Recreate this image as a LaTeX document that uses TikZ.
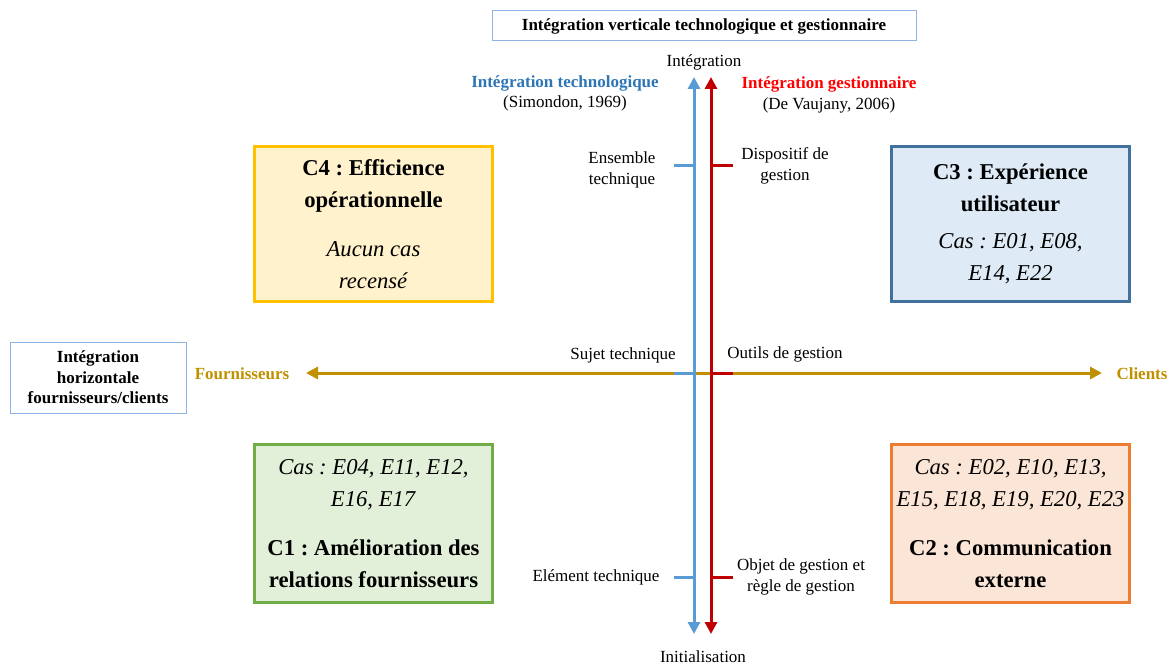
\documentclass[tikz,border=0pt]{standalone}
\usepackage{fontspec}
\setmainfont{Liberation Serif}
\frenchspacing
\usepackage{tikz}
\usetikzlibrary{
  arrows.meta,  % pointes Triangle des axes
  positioning,  % placement relatif des noeuds
  calc          % calculs de coordonnees
}

% couleurs des axes et des cadrans
\definecolor{axeTech}{HTML}{5B9BD5}
\definecolor{axeGest}{HTML}{C00000}
\definecolor{axeHoriz}{HTML}{BF9000}
\definecolor{texteTech}{HTML}{2E75B6}
\definecolor{texteGest}{HTML}{FF0000}
\definecolor{cadreBleu}{HTML}{8EB4E3}
\definecolor{bordC4}{HTML}{FFC000}
\definecolor{fondC4}{HTML}{FFF2CC}
\definecolor{bordC3}{HTML}{41719C}
\definecolor{fondC3}{HTML}{DEEBF7}
\definecolor{bordC1}{HTML}{70AD47}
\definecolor{fondC1}{HTML}{E2F0D9}
\definecolor{bordC2}{HTML}{ED7D31}
\definecolor{fondC2}{HTML}{FBE5D6}

\begin{document}
\begin{tikzpicture}[x=0.75pt, y=-0.75pt, >={Triangle[length=9pt, width=9pt]}, % une unite = un pixel de la figure, axe y vers le bas
  petit/.style={font=\fontsize{12.75}{15.5}\selectfont, align=center, inner sep=0pt},
  cadran/.style={draw, line width=2.25pt, align=center, inner sep=0pt,
    minimum width=178.5pt, font=\fontsize{17}{24}\selectfont},
  axe/.style={line width=2.25pt, <->},
  trait/.style={line width=2.25pt}]
  \useasboundingbox (0,0) rectangle (1173,666); % marges de la figure d'origine

  % titres des deux integrations
  \node[petit, draw=cadreBleu, line width=0.75pt, minimum width=318pt, minimum height=22.5pt] (titreV) at (704,26) {\textbf{Intégration verticale technologique et gestionnaire}};
  \node[petit, draw=cadreBleu, line width=0.75pt, minimum width=132pt, minimum height=53.25pt] (titreH) at (98,377.5) {\textbf{Intégration}\\\textbf{horizontale}\\\textbf{fournisseurs/clients}};

  % extremites des axes
  \node[petit] (integ) at (704,62) {Intégration};
  \node[petit] (init) at (703,657) {Initialisation};
  \node[petit, text=axeHoriz, font=\fontsize{12.75}{15.5}\selectfont\bfseries] (fourn) at (242,374) {Fournisseurs};
  \node[petit, text=axeHoriz, font=\fontsize{12.75}{15.5}\selectfont\bfseries] (cli) at (1142,374) {Clients};
  \coordinate (techHaut) at (694,77);
  \coordinate (techBas) at (694,634);
  \coordinate (gestHaut) at (711,77);
  \coordinate (gestBas) at (711,634);
  \coordinate (horizG) at (306,373);
  \coordinate (horizD) at (1102,373);

  % sources des deux axes verticaux
  \node[petit] (techSrc) at (565,93.5) {\textbf{\color{texteTech}Intégration technologique}\\(Simondon, 1969)};
  \node[petit] (gestSrc) at (829,95) {\textbf{\color{texteGest}Intégration gestionnaire}\\(De Vaujany, 2006)};

  % niveaux sur les axes
  \node[petit] (ensTech) at (622,170) {Ensemble\\technique};
  \node[petit] (dispGest) at (785,166) {Dispositif de\\gestion};
  \node[petit] (sujTech) at (623,355) {Sujet technique};
  \node[petit] (outGest) at (785,354) {Outils de gestion};
  \node[petit] (elTech) at (596,577) {Elément technique};
  \node[petit] (objGest) at (801,577) {Objet de gestion et\\règle de gestion};

  % axe horizontal puis graduations puis axes verticaux
  \draw[axe, axeHoriz] (horizG) -- (horizD);
  \foreach \y in {166,373,577} {
    \draw[trait, axeTech] (674,\y) -- (694,\y);
    \draw[trait, axeGest] (711,\y) -- (733,\y);
  }
  \draw[axe, axeTech] (techBas) -- (techHaut);
  \draw[axe, axeGest] (gestBas) -- (gestHaut);

  % les quatre cadrans
  \node[cadran, draw=bordC4, fill=fondC4, minimum height=116pt] (c4) at (373.5,224) {\textbf{C4 : Efficience}\\\textbf{opérationnelle}\\[13pt]\textit{Aucun cas}\\\textit{recensé}};
  \node[cadran, draw=bordC3, fill=fondC3, minimum height=116pt] (c3) at (1010.5,224) {\textbf{C3 : Expérience}\\\textbf{utilisateur}\\[4pt]\textit{Cas : E01, E08,}\\\textit{E14, E22}};
  \node[cadran, draw=bordC1, fill=fondC1, minimum height=118.5pt] (c1) at (373.5,523.5) {\textit{Cas : E04, E11, E12,}\\\textit{E16, E17}\\[13pt]\textbf{C1 : Amélioration des}\\\textbf{relations fournisseurs}};
  \node[cadran, draw=bordC2, fill=fondC2, minimum height=118.5pt] (c2) at (1010.5,523.5) {\textit{Cas : E02, E10, E13,}\\\textit{E15, E18, E19, E20, E23}\\[13pt]\textbf{C2 : Communication}\\\textbf{externe}};
\end{tikzpicture}
\end{document}
